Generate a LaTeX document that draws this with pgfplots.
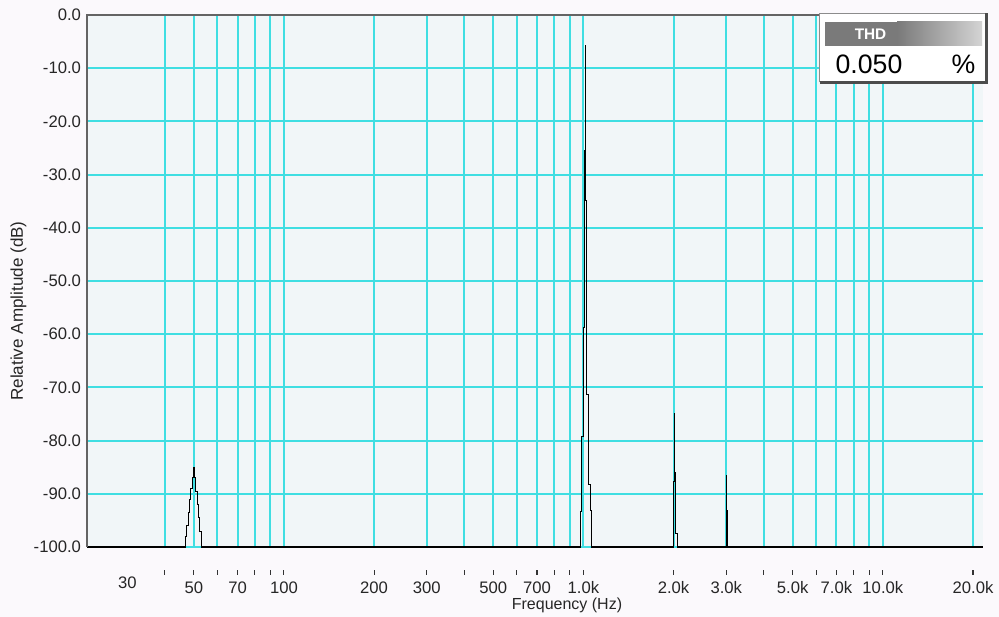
\documentclass[border=0pt]{standalone}
\usepackage{fontspec}
\setmainfont{Liberation Sans}
\usepackage{pgfplots}
\pgfplotsset{compat=1.18}
\usepackage{xcolor}
\definecolor{figbg}{RGB}{251,249,252}
\definecolor{plotbg}{RGB}{241,246,248}
\definecolor{gridc}{RGB}{64,222,226}
\definecolor{framegray}{RGB}{100,100,100}
\definecolor{hdrdark}{RGB}{122,122,122}
\definecolor{hdrlight}{RGB}{212,212,212}

\begin{document}
\begin{tikzpicture}
% whole picture 999x617 px, 1 px = 0.75pt
\fill[figbg] (0,0) rectangle (749.25pt,462.75pt);

% grid, data and y labels
\begin{axis}[at={(65.25pt,52.5pt)},anchor=south west,
  scale only axis,width=672pt,height=399pt,
  xmode=log,log basis x=10,
  xmin=22,xmax=21600,ymin=-100,ymax=0,
  axis line style={draw=none},
  minor x tick num=0,
  xtick={40,50,60,70,80,90,100,200,300,400,500,600,700,800,900,1000,
    2000,3000,4000,5000,6000,7000,8000,9000,10000,20000},
  clip=false,
  axis background/.style={fill=plotbg},
  xticklabels={},
  ytick={-100,-90,-80,-70,-60,-50,-40,-30,-20,-10,0},
  yticklabels={-100.0,-90.0,-80.0,-70.0,-60.0,-50.0,-40.0,-30.0,-20.0,-10.0,0.0},
  xmajorgrids,ymajorgrids,
  grid style={gridc,line width=1.5pt},
  major tick length=0pt,
  tick style={draw=none},
  tick label style={font=\fontsize{12.5}{14}\selectfont,text=black!85},
  yticklabel style={xshift=-1pt}]

\addplot[black,line width=0.8pt] coordinates {
  (22,-100) (46.9,-100)
  (46.9,-98) (47.4,-98) (47.4,-96) (47.9,-96) (47.9,-93.5) (48.4,-93.5)
  (48.4,-91) (48.9,-91) (48.9,-89) (49.4,-89) (49.4,-87) (49.8,-87)
  (49.8,-85) (50.3,-85) (50.3,-87) (50.8,-87) (50.8,-89.5) (51.3,-89.5)
  (51.3,-92) (51.8,-92) (51.8,-94.5) (52.4,-94.5) (52.4,-97) (53.0,-97)
  (53.0,-100)
  (980,-100) (980,-93.4) (988,-93.4) (988,-79.3) (998,-79.3) (998,-58.8)
  (1008,-58.8) (1008,-25.4) (1013,-25.4) (1013,-5.8) (1019,-5.8)
  (1019,-34.8) (1026,-34.8) (1026,-71.4) (1039,-71.4) (1039,-88.3)
  (1053,-88.3) (1053,-93.2) (1067,-93.2) (1067,-100)
  (2000,-100) (2000,-87.7) (2015,-87.7) (2015,-74.9) (2018,-74.9)
  (2018,-86) (2036,-86) (2036,-97.4) (2056,-97.4) (2056,-100)
  (3009,-100) (3009,-86.6) (3014,-86.6) (3014,-93.2) (3030,-93.2)
  (3030,-100)
  (21600,-100)};

\draw[framegray,line width=1.8pt] (rel axis cs:0,0) -- (rel axis cs:0,1)
  -- (rel axis cs:1,1);
\end{axis}

% detached x tick marks and x labels
\begin{axis}[at={(65.25pt,52.5pt)},anchor=south west,
  scale only axis,width=672pt,height=399pt,
  xmode=log,log basis x=10,
  xmin=22,xmax=21600,ymin=-100,ymax=0,
  axis line style={draw=none},
  minor x tick num=0,
  xtick={40,50,60,70,80,90,100,200,300,400,500,600,700,800,900,1000,
    2000,3000,4000,5000,6000,7000,8000,9000,10000,20000},
  ytick=\empty,
  xtick pos=bottom,
  xticklabels={,50,,70,,,100,200,300,,500,,700,,,1.0k,
    2.0k,3.0k,,5.0k,,7.0k,,,10.0k,20.0k},
  extra x ticks={30},extra x tick labels={30},
  extra x tick style={major tick length=0pt},
  tick align=outside,
  major tick length=3.75pt,
  x tick style={black!80,line width=0.8pt,yshift=-17.25pt},
  tick label style={font=\fontsize{12.5}{14}\selectfont,text=black!85},
  xticklabel style={yshift=-18.5pt}]
\end{axis}

\begin{scope}[x=0.75pt,y=-0.75pt,yshift=462.75pt]
  \node[rotate=90,font=\fontsize{12.8}{14}\selectfont,text=black!85]
    at (18.5,311) {Relative Amplitude (dB)};
  \node[font=\fontsize{12}{14}\selectfont,text=black!85]
    at (567,605) {Frequency (Hz)};
  % THD read-out box
  \fill[white] (819.5,13.5) rectangle (986.5,82.5);
  \draw[black!45,line width=0.8pt] (819.5,82.5) -- (819.5,13.5) -- (986.5,13.5);
  \draw[black!70,line width=1.6pt] (986.5,13.5) -- (986.5,82.5) -- (819.5,82.5);
  \fill[hdrdark] (825,22) rectangle (897,46);
  \shade[left color=hdrdark,right color=hdrlight] (897,22) rectangle (982,46);
  \node[text=white,font=\bfseries\fontsize{11.5}{13}\selectfont] at (870.5,34) {THD};
  \node[font=\fontsize{20}{22}\selectfont] at (869,64) {0.050};
  \node[font=\fontsize{20}{22}\selectfont] at (963.5,64) {\%};
\end{scope}

\pgfresetboundingbox
\path (0,0) rectangle (749.25pt,462.75pt);
\end{tikzpicture}
\end{document}
